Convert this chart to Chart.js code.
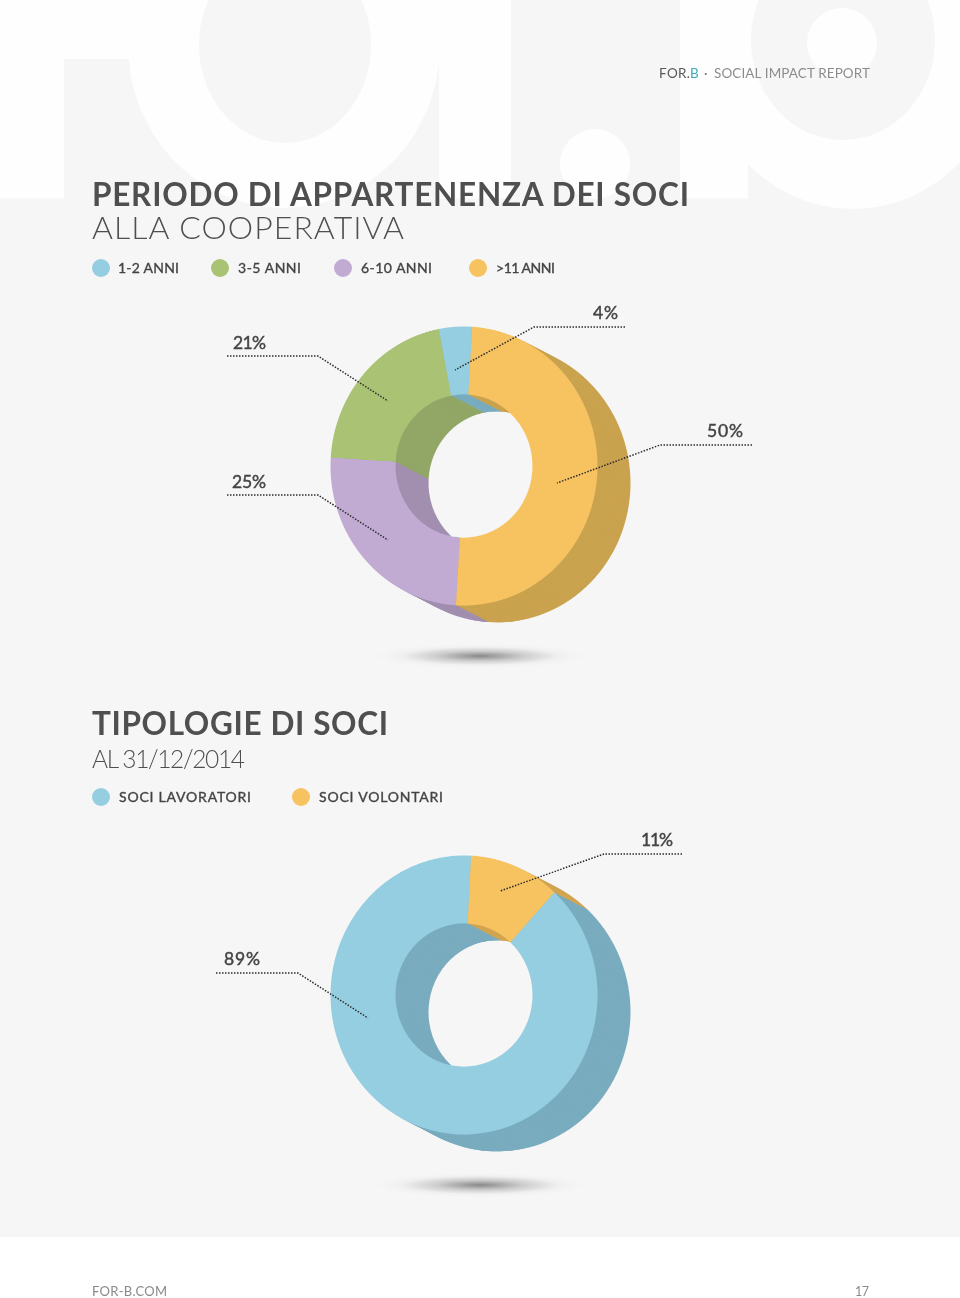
<!DOCTYPE html>
<html>
<head>
<meta charset="utf-8">
<title>Periodo di appartenenza dei soci</title>
<script src="https://cdn.jsdelivr.net/npm/chart.js@4"></script>
<style>
  html, body { margin: 0; padding: 0; background: #fff; }
  #page { position: relative; width: 960px; height: 1298px; overflow: hidden; font-family: Lato, sans-serif; }
  #panel { position: absolute; left: 0; top: 0; width: 960px; height: 1237px; background: #f6f6f6; }
  #art, #leaders { position: absolute; left: 0; top: 0; }
  .t { position: absolute; white-space: nowrap; line-height: 1.2; }
  .dot { position: absolute; width: 18px; height: 18px; border-radius: 50%; }
  .donut { position: absolute; width: 340px; height: 340px; transform: scaleY(1.045); }
  .shadow { position: absolute; width: 210px; height: 24px; background: radial-gradient(closest-side, rgba(100,100,100,.75), rgba(140,140,140,.4) 40%, rgba(190,190,190,.1) 75%, rgba(200,200,200,0)); }
</style>
</head>
<body>
<div id="page">
  <div id="panel"></div>
  <!-- big for.b lettering behind the header -->
  <svg id="art" width="960" height="1298">
    <rect x="0" y="0" width="960" height="198.5" fill="#fefefe"/>
    <rect x="64" y="59" width="375" height="139.5" fill="#f6f6f6"/>
    <rect x="511" y="0" width="169" height="198.5" fill="#f6f6f6"/>
    <rect x="748" y="120" width="212" height="78.5" fill="#f6f6f6"/>
    <ellipse cx="284" cy="45" rx="156" ry="163" fill="#fefefe"/>
    <ellipse cx="285" cy="45" rx="86" ry="98" fill="#f6f6f6"/>
    <ellipse cx="595" cy="164" rx="35" ry="35" fill="#fefefe"/>
    <ellipse cx="853" cy="40" rx="155" ry="169" fill="#fefefe"/>
    <ellipse cx="843" cy="40" rx="92" ry="100" fill="#f6f6f6"/>
    <ellipse cx="842" cy="43" rx="35" ry="35" fill="#fefefe"/>
  </svg>
  <div class="shadow" style="left:375px;top:644px"></div>
  <div class="shadow" style="left:375px;top:1173px"></div>
  <div class="donut" style="left:293.5px;top:295.5px"><canvas id="chartPeriodo" width="340" height="340"></canvas></div>
  <div class="donut" style="left:293.5px;top:824.5px"><canvas id="chartTipologie" width="340" height="340"></canvas></div>
  <svg id="leaders" width="960" height="1298"></svg>
</div>

<script>
// data, legend order
const periodoLabels = ['1-2 ANNI', '3-5 ANNI', '6-10 ANNI', '>11 ANNI'];
const periodoValues = [4, 21, 25, 50];
const periodoColors = ['#95cee1', '#a9c274', '#c1abd3', '#f7c260'];
const periodoDark = ['#7aacbf', '#92a766', '#a28fb0', '#caa34f'];

const tipologieLabels = ['SOCI LAVORATORI', 'SOCI VOLONTARI'];
const tipologieValues = [89, 11];
const tipologieColors = ['#95cee1', '#f7c260'];
const tipologieDark = ['#7aacbf', '#d2a551'];

// side extrusion: dark copies of each arc, one pixel apart
const extrude = {
  id: 'extrude',
  beforeDatasetsDraw(chart, args, opts) {
    const ctx = chart.ctx;
    const arcs = chart.getDatasetMeta(0).data;
    for (let s = opts.steps; s >= 1; s--) {
      ctx.save();
      ctx.translate(s, s * opts.slope);
      arcs.forEach((arc, i) => {
        const p = arc.getProps(['x', 'y', 'startAngle', 'endAngle', 'innerRadius', 'outerRadius']);
        ctx.fillStyle = opts.colors[i];
        ctx.beginPath();
        ctx.arc(p.x, p.y, p.outerRadius, p.startAngle, p.endAngle);
        ctx.arc(p.x, p.y, p.innerRadius, p.endAngle, p.startAngle, true);
        ctx.closePath();
        ctx.fill();
      });
      ctx.restore();
    }
  }
};

// slices run the other way round from the legend
function donut(id, labels, values, colors, dark, rotation) {
  new Chart(document.getElementById(id), {
    type: 'doughnut',
    plugins: [extrude],
    data: {
      labels: labels.slice().reverse(),
      datasets: [{
        data: values.slice().reverse(),
        backgroundColor: colors.slice().reverse(),
        borderWidth: 0
      }]
    },
    options: {
      responsive: false,
      animation: false,
      devicePixelRatio: 2,
      rotation: rotation,
      radius: 133.5,
      cutout: '51.3%',
      events: [],
      plugins: {
        legend: { display: false },
        tooltip: { enabled: false },
        extrude: { steps: 33, slope: 0.494, colors: dark.slice().reverse() }
      }
    }
  });
}

donut('chartPeriodo', periodoLabels, periodoValues, periodoColors, periodoDark, 3.5);
donut('chartTipologie', tipologieLabels, tipologieValues, tipologieColors, tipologieDark, 3);

// text helper: fit to x0..x1, centred on the cap height at cy
const page = document.getElementById('page');
function text(str, x0, x1, cy, size, weight, color, stroke) {
  const el = document.createElement('div');
  el.className = 't';
  el.textContent = str;
  el.style.left = x0 + 'px';
  el.style.top = (cy - 0.627 * size) + 'px';
  el.style.fontSize = size + 'px';
  el.style.fontWeight = weight;
  el.style.color = color;
  if (stroke) el.style.webkitTextStroke = stroke + 'px ' + color;
  page.appendChild(el);
  const natural = el.getBoundingClientRect().width;
  el.style.letterSpacing = ((x1 - x0 - natural) / Math.max(str.length - 1, 1)) + 'px';
  return el;
}
function dot(cx, cy, color) {
  const el = document.createElement('div');
  el.className = 'dot';
  el.style.left = (cx - 9) + 'px';
  el.style.top = (cy - 9) + 'px';
  el.style.background = color;
  page.appendChild(el);
}

const DARK = '#4f4f4f';
const LABEL = '#444444';

// header
text('FOR.', 659, 690, 73, 13.5, 400, '#5a5a5a');
text('B', 690, 698, 73, 13.5, 400, '#3fa9b8');
text('·', 704, 707, 73, 13.5, 400, '#777777');
text('SOCIAL IMPACT REPORT', 714, 870, 73, 13.5, 400, '#8c8c8c');

// first block
text('PERIODO DI APPARTENENZA DEI SOCI', 92, 689, 195.5, 31.5, 700, DARK);
text('ALLA COOPERATIVA', 92, 404, 228, 32, 300, DARK);
const periodoDots = [100.5, 220, 343, 478];
const periodoText = [[118, 179], [238, 301], [361, 432], [496, 555]];
periodoLabels.forEach((l, i) => {
  dot(periodoDots[i], 267.5, periodoColors[i]);
  text(l, periodoText[i][0], periodoText[i][1], 268.5, 14, 400, LABEL, 0.35);
});

// second block
text('TIPOLOGIE DI SOCI', 92, 388, 725, 31.5, 700, DARK);
text('AL 31/12/2014', 92, 245, 759, 24.5, 300, DARK);
const tipologieDots = [100.5, 300.5];
const tipologieText = [[119, 251], [319, 443]];
tipologieLabels.forEach((l, i) => {
  dot(tipologieDots[i], 796.5, tipologieColors[i]);
  text(l, tipologieText[i][0], tipologieText[i][1], 797.5, 14, 400, LABEL, 0.35);
});

// percent labels and dotted leaders
const callouts = [
  [periodoValues[0], 593, 618, 312.5, [[625, 327], [534, 327], [455, 370]]],
  [periodoValues[1], 233, 266, 342.5, [[227, 356], [318, 356], [388, 401]]],
  [periodoValues[2], 232, 266, 481.5, [[227, 495], [318, 495], [388, 540]]],
  [periodoValues[3], 707, 743, 430.5, [[752, 445], [660, 445], [557, 483]]],
  [tipologieValues[0], 224, 260, 958.5, [[216, 973], [298, 973], [368, 1018]]],
  [tipologieValues[1], 641, 673, 839.5, [[682, 854], [604, 854], [500, 891]]]
];
const svg = document.getElementById('leaders');
callouts.forEach(c => {
  text(c[0] + '%', c[1], c[2], c[3], 17.5, 400, LABEL, 0.45);
  const line = document.createElementNS('http://www.w3.org/2000/svg', 'polyline');
  line.setAttribute('points', c[4].map(p => p.join(',')).join(' '));
  line.setAttribute('fill', 'none');
  line.setAttribute('stroke', '#2c2c2c');
  line.setAttribute('stroke-width', '1.5');
  line.setAttribute('stroke-dasharray', '1.5 1.5');
  svg.appendChild(line);
});

// footer
text('FOR-B.COM', 92, 167, 1292, 13, 400, '#8a8a8a');
text('17', 855, 869, 1292, 12.5, 400, '#8a8a8a');
</script>
</body>
</html>
